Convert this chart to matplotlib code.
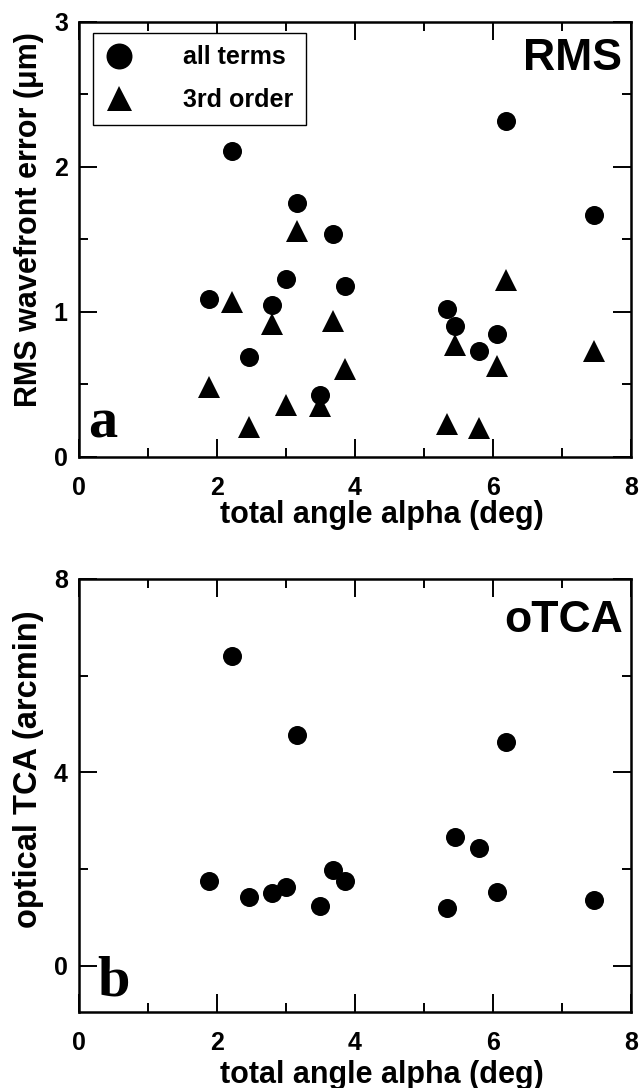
import matplotlib
matplotlib.use("Agg")
import matplotlib.pyplot as plt
from matplotlib.lines import Line2D
from matplotlib.ticker import MultipleLocator

plt.rcParams['font.family'] = ['Liberation Sans', 'DejaVu Sans']
plt.rcParams['font.weight'] = 'bold'

# total angle alpha (deg), same subjects in both panels
alpha = [1.88, 2.22, 3.16, 3.00, 2.80, 2.47, 3.49, 3.68, 3.86,
         5.33, 5.45, 5.80, 6.06, 6.19, 7.47]

# panel a: RMS wavefront error (um)
rms_all = [1.09, 2.11, 1.75, 1.23, 1.05, 0.69, 0.43, 1.54, 1.18,
           1.02, 0.90, 0.73, 0.85, 2.32, 1.67]
rms_3rd = [0.48, 1.07, 1.56, 0.36, 0.92, 0.21, 0.35, 0.94, 0.61,
           0.23, 0.77, 0.20, 0.63, 1.22, 0.73]

# panel b: optical TCA (arcmin)
otca = [1.76, 6.40, 4.77, 1.63, 1.51, 1.43, 1.24, 1.98, 1.76,
        1.20, 2.67, 2.44, 1.53, 4.63, 1.36]

fig = plt.figure(figsize=(6.41, 10.88), dpi=100)
ax1 = fig.add_axes([0.1232, 0.5800, 0.8612, 0.3998])
ax2 = fig.add_axes([0.1232, 0.0699, 0.8612, 0.3980])

ax1.plot(alpha, rms_all, 'o', color='black', ms=13.7, mew=0)
ax1.plot(alpha, rms_3rd, '^', color='black', ms=16, mew=0)
ax2.plot(alpha, otca, 'o', color='black', ms=13.7, mew=0)

ax1.set_ylim(0, 3)
ax1.yaxis.set_major_locator(MultipleLocator(1))
ax1.yaxis.set_minor_locator(MultipleLocator(0.5))
ax2.set_ylim(-0.95, 8)
ax2.yaxis.set_major_locator(MultipleLocator(4))
ax2.yaxis.set_minor_locator(MultipleLocator(2))

for ax in (ax1, ax2):
    ax.set_xlim(0, 8)
    ax.xaxis.set_major_locator(MultipleLocator(2))
    ax.xaxis.set_minor_locator(MultipleLocator(1))
    ax.tick_params(which='both', direction='in', top=True, right=True,
                   width=1.4, labelsize=18)
    ax.tick_params(axis='x', which='both', pad=14)
    ax.tick_params(axis='y', which='both', pad=8)
    ax.tick_params(which='major', length=13)
    ax.tick_params(which='minor', length=6.5)
    for s in ax.spines.values():
        s.set_linewidth(1.8)
    ax.set_xlabel('total angle alpha (deg)', fontsize=22, fontweight='bold')

ax1.set_ylabel('RMS wavefront error (\u03bcm)', fontsize=22, fontweight='bold')
ax2.set_ylabel('optical TCA (arcmin)', fontsize=23.5, fontweight='bold')

ax1.xaxis.set_label_coords(0.549, -0.099)
ax2.xaxis.set_label_coords(0.549, -0.111)
ax1.yaxis.set_label_coords(-0.063, 0.545)
ax2.yaxis.set_label_coords(-0.063, 0.561)

ax1.text(0.984, 0.890, 'RMS', transform=ax1.transAxes, ha='right',
         va='baseline', fontsize=32, fontweight='bold')
ax2.text(0.986, 0.878, 'oTCA', transform=ax2.transAxes, ha='right',
         va='baseline', fontsize=32, fontweight='bold')

ax1.text(0.016, 0.044, 'a', transform=ax1.transAxes, ha='left',
         va='baseline', fontsize=42, fontweight='bold', family='Liberation Serif')
ax2.text(0.034, 0.039, 'b', transform=ax2.transAxes, ha='left',
         va='baseline', fontsize=42, fontweight='bold', family='Liberation Serif')

handles = [Line2D([], [], ls='none', marker='o', color='black', ms=18.7, mew=0),
           Line2D([], [], ls='none', marker='^', color='black', ms=18, mew=0)]
leg = ax1.legend(handles, ['all terms', '3rd order'], loc='upper left',
                 bbox_to_anchor=(0.025, 0.975), borderaxespad=0,
                 fontsize=18, frameon=True, fancybox=False, edgecolor='black',
                 framealpha=1, handlelength=1.1, handletextpad=2.0,
                 borderpad=0.5, labelspacing=0.75)
leg.get_frame().set_linewidth(1.0)

plt.savefig('out.png', dpi=100)
